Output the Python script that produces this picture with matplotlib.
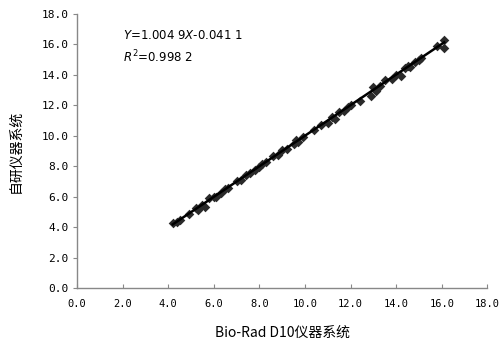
import matplotlib
matplotlib.use("Agg")
import matplotlib.pyplot as plt
import numpy as np

plt.rcParams['font.family'] = ['Noto Sans CJK SC', 'DejaVu Sans']

# data
bio_rad = [4.2, 4.4, 4.5, 4.9, 5.2, 5.3, 5.5, 5.6, 5.8, 6.0, 6.1, 6.3, 6.5, 6.6,
           7.0, 7.2, 7.4, 7.6, 7.8, 8.0, 8.1, 8.3, 8.6, 8.8, 9.0, 9.2, 9.5, 9.6,
           9.7, 9.9, 10.4, 10.7, 11.0, 11.2, 11.3, 11.5, 11.7, 11.9, 12.0, 12.4,
           12.9, 13.0, 13.1, 13.3, 13.5, 13.8, 14.0, 14.2, 14.4, 14.5, 14.6, 14.8,
           15.0, 15.1, 15.8, 16.1, 16.1]
self_dev = [4.25, 4.35, 4.45, 4.85, 5.25, 5.15, 5.45, 5.35, 5.90, 6.00, 5.95, 6.25,
            6.50, 6.55, 7.05, 7.10, 7.45, 7.55, 7.75, 7.95, 8.15, 8.25, 8.65, 8.75,
            9.05, 9.10, 9.45, 9.70, 9.60, 9.95, 10.40, 10.70, 10.85, 11.25, 11.10,
            11.55, 11.60, 11.90, 12.00, 12.30, 12.60, 13.20, 12.95, 13.25, 13.65,
            13.75, 14.00, 13.95, 14.45, 14.60, 14.55, 14.85, 14.95, 15.10, 15.90,
            16.30, 15.80]
slope = 1.0049
intercept = -0.0411
ticks = [0, 2, 4, 6, 8, 10, 12, 14, 16, 18]
tick_labels = ["0.0", "2.0", "4.0", "6.0", "8.0", "10.0", "12.0", "14.0", "16.0", "18.0"]

fig = plt.figure(figsize=(5.0, 3.42), dpi=100)
ax = fig.add_axes([0.154, 0.158, 0.821, 0.801])

ax.scatter(bio_rad, self_dev, marker='D', s=24, color='#2a2a2a', zorder=3, linewidths=0)
xl = np.array([min(bio_rad), max(bio_rad)])
ax.plot(xl, slope * xl + intercept, color='black', lw=1.8, zorder=4)

ax.set_xlim(0, 18)
ax.set_ylim(0, 18)
ax.set_xticks(ticks)
ax.set_yticks(ticks)
mono = ['DejaVu Sans Mono']
ax.set_xticklabels(tick_labels, family=mono, fontsize=7.5)
ax.set_yticklabels(tick_labels, family=mono, fontsize=8)
for s in ['top', 'right']:
    ax.spines[s].set_visible(False)
for s in ['left', 'bottom']:
    ax.spines[s].set_color('#888888')
    ax.spines[s].set_linewidth(1.0)
ax.tick_params(axis='x', direction='in', length=3, color='#888888', pad=8)
ax.tick_params(axis='y', direction='out', length=3, color='#888888', pad=3)

ax.text(2.0, 16.6, "$Y$=1.004 9$X$-0.041 1", fontsize=8.5, va='center', family=['DejaVu Sans'])
ax.text(2.0, 15.2, "$R^2$=0.998 2", fontsize=8.5, va='center', family=['DejaVu Sans'])

ax.set_xlabel("Bio-Rad D10仪器系统", fontsize=10, labelpad=12)
ax.set_ylabel("自研仪器系统", fontsize=10, labelpad=14)

fig.savefig("out.png", dpi=100)
